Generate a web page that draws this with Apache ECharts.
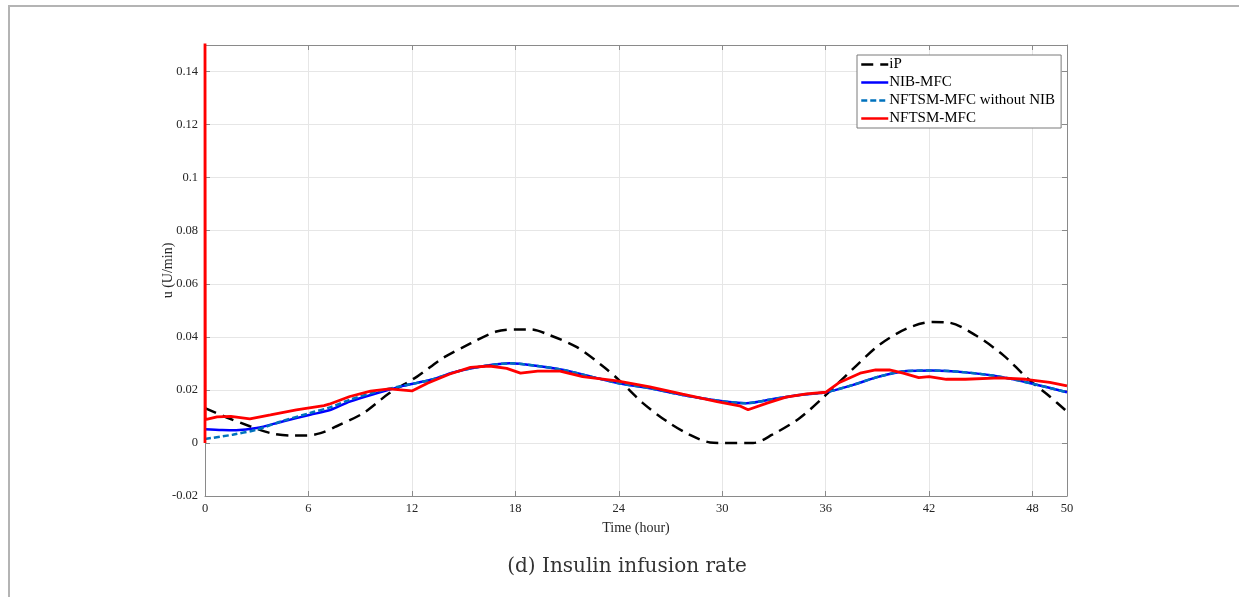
<!DOCTYPE html>
<html>
<head>
<meta charset="utf-8">
<title>Insulin infusion rate</title>
<script src="https://cdn.jsdelivr.net/npm/echarts@6/dist/echarts.min.js"></script>
<style>
  html, body { margin: 0; padding: 0; background: #fff; }
  #chart { position: absolute; left: 0; top: 0; width: 1239px; height: 597px; }
  .frame {
    position: absolute; left: 8px; top: 5px; width: 1300px; height: 700px;
    border-left: 2px solid #b4b4b4; border-top: 2px solid #b4b4b4;
    pointer-events: none;
  }
</style>
</head>
<body>
<div id="chart"></div>
<div class="frame"></div>
<script>
// time axis (hour) and control inputs u (U/min)
var ipHours = [0, 1.3, 2.6, 3.8, 5, 5.9, 6.7, 7.6, 9.2, 10.7, 12.3, 13.8, 15.4, 16.9, 18, 18.9, 20, 21.6, 23.1, 24, 25.4, 26.8, 28.1, 29.3, 30, 31.8, 32.9, 34.5, 36, 37.6, 39.1, 40.7, 42.2, 43.2, 44.7, 46.3, 47.8, 49, 50];
var ipValues = [0.0131, 0.0095, 0.0063, 0.0037, 0.0028, 0.0028, 0.0037, 0.0062, 0.0113, 0.0188, 0.025, 0.032, 0.0375, 0.042, 0.0428, 0.0428, 0.0406, 0.036, 0.0288, 0.0238, 0.015, 0.0081, 0.0031, 0.0002, 0, 0, 0.0031, 0.0094, 0.018, 0.028, 0.0369, 0.0431, 0.0456, 0.0453, 0.0406, 0.0331, 0.0238, 0.0175, 0.0118];

var nibHours = [0, 1, 1.8, 3, 4.5, 6.1, 7.3, 8.4, 10, 11.5, 13.1, 14.6, 16.2, 17.7, 19.3, 20.8, 22.4, 24, 25.8, 27.7, 29.7, 31.4, 32.9, 34.5, 36, 37.6, 39.1, 40.7, 42.2, 44.1, 46.1, 48, 50];
var nibValues = [0.0052, 0.0049, 0.0048, 0.0056, 0.0081, 0.0106, 0.0125, 0.0156, 0.0188, 0.0215, 0.0238, 0.0269, 0.029, 0.03, 0.029, 0.0275, 0.025, 0.0225, 0.0206, 0.0181, 0.016, 0.015, 0.0165, 0.0181, 0.0191, 0.0219, 0.025, 0.0271, 0.0273, 0.0266, 0.025, 0.0223, 0.0191];

var woHours = [0, 1.6, 3, 4.5, 6.1, 7.3, 8.4, 10, 11.5, 13.1, 14.6, 16.2, 17.7, 19.3, 20.8, 22.4, 24, 25.8, 27.7, 29.7, 31.4, 32.9, 34.5, 36, 37.6, 39.1, 40.7, 42.2, 44.1, 46.1, 48, 50];
var woValues = [0.0015, 0.0031, 0.005, 0.0083, 0.0113, 0.0135, 0.0163, 0.0194, 0.0216, 0.0238, 0.0269, 0.029, 0.03, 0.029, 0.0275, 0.025, 0.0225, 0.0206, 0.0181, 0.016, 0.015, 0.0165, 0.0181, 0.0191, 0.0219, 0.025, 0.0271, 0.0273, 0.0266, 0.025, 0.0223, 0.0191];

var nftsmHours = [0, 0, 0.02, 0.7, 1.5, 2.6, 3.8, 5.3, 6.9, 7.2, 8.4, 9.6, 10.7, 12, 12.9, 14.2, 15.4, 16.5, 17.5, 18.3, 19.3, 20.6, 21.9, 23.9, 25.8, 27.7, 29.7, 31, 31.5, 32.6, 33.7, 34.9, 36, 36.8, 38, 38.9, 39.7, 40.5, 41.4, 42, 43, 44.1, 46.1, 47.6, 49, 50];
var nftsmValues = [0, 0.16, 0.0088, 0.0098, 0.01, 0.0091, 0.0106, 0.0125, 0.0141, 0.0146, 0.0175, 0.0195, 0.0204, 0.0196, 0.0225, 0.026, 0.0285, 0.029, 0.0281, 0.0263, 0.0271, 0.0271, 0.025, 0.0234, 0.0211, 0.0184, 0.0156, 0.014, 0.0125, 0.015, 0.0173, 0.0185, 0.0191, 0.0228, 0.0263, 0.0275, 0.0275, 0.0263, 0.0246, 0.025, 0.024, 0.024, 0.0245, 0.024, 0.0228, 0.0215];

var seriesNames = ['iP', 'NIB-MFC', 'NFTSM-MFC without NIB', 'NFTSM-MFC'];

function pairs(xs, ys) {
  var out = [];
  for (var i = 0; i < xs.length; i++) out.push([xs[i], ys[i]]);
  return out;
}

var font = 'Liberation Serif, Times New Roman, serif';
var axisGray = '#8a8a8a';

var chart = echarts.init(document.getElementById('chart'));

function boxAxis(base, extra) {
  return Object.assign({
    type: 'value',
    axisLine: { show: true, onZero: false, lineStyle: { color: axisGray, width: 1 } },
    axisTick: { show: true, inside: true, length: 5, lineStyle: { color: axisGray } },
    splitLine: { show: false }
  }, base, extra);
}

var xBase = { min: 0, max: 50, interval: 6 };
var yBase = { min: -0.02, max: 0.15, interval: 0.02 };

var option = {
  animation: false,
  backgroundColor: 'transparent',
  grid: { left: 205, right: 172, top: 45, bottom: 101 },
  legend: {
    data: seriesNames,
    orient: 'vertical',
    left: 857,
    top: 55,
    padding: [2, 6, 2, 3],
    itemGap: 3,
    itemWidth: 27,
    itemHeight: 14,
    itemStyle: { opacity: 0 },
    lineStyle: { width: 2.5 },
    backgroundColor: '#fff',
    borderColor: '#7a7a7a',
    borderWidth: 1,
    borderRadius: 0,
    textStyle: { fontFamily: font, fontSize: 15, color: '#000', padding: [0, 0, 0, -4] }
  },
  xAxis: [
    boxAxis(xBase, {
      position: 'bottom',
      name: 'Time (hour)',
      nameLocation: 'middle',
      nameGap: 25,
      nameMoveOverlap: false,
      nameTextStyle: { fontFamily: font, fontSize: 14, color: '#262626' },
      axisLabel: { fontFamily: font, fontSize: 12.5, color: '#262626', margin: 6 },
      splitLine: { show: true, lineStyle: { color: '#e6e6e6' } }
    }),
    boxAxis(xBase, { position: 'top', axisLabel: { show: false } })
  ],
  yAxis: [
    boxAxis(yBase, {
      position: 'left',
      name: 'u (U/min)',
      nameLocation: 'middle',
      nameGap: 30,
      nameMoveOverlap: false,
      nameTextStyle: { fontFamily: font, fontSize: 14, color: '#262626' },
      axisLabel: {
        fontFamily: font, fontSize: 12.5, color: '#262626', margin: 7,
        formatter: function (v) {
          if (v > 0.145) return '';
          return String(parseFloat(v.toFixed(2)));
        }
      },
      splitLine: { show: true, lineStyle: { color: '#e6e6e6' } }
    }),
    boxAxis(yBase, { position: 'right', axisLabel: { show: false } })
  ],
  series: [
    {
      name: seriesNames[0], type: 'line', data: pairs(ipHours, ipValues),
      showSymbol: false, symbol: 'none', smooth: 0.3,
      lineStyle: { color: '#000', width: 2.5, type: [12, 7] },
      itemStyle: { color: '#000' }
    },
    {
      name: seriesNames[1], type: 'line', data: pairs(nibHours, nibValues),
      showSymbol: false, symbol: 'none', smooth: 0.3,
      lineStyle: { color: '#0000ff', width: 2.5 },
      itemStyle: { color: '#0000ff' }
    },
    {
      name: seriesNames[2], type: 'line', data: pairs(woHours, woValues),
      showSymbol: false, symbol: 'none', smooth: 0.3,
      lineStyle: { color: '#0072bd', width: 2.5, type: [6, 3] },
      itemStyle: { color: '#0072bd' }
    },
    {
      name: seriesNames[3], type: 'line', data: pairs(nftsmHours, nftsmValues),
      showSymbol: false, symbol: 'none', smooth: false,
      lineStyle: { color: '#ff0000', width: 2.8 },
      itemStyle: { color: '#ff0000' }
    }
  ],
  graphic: [
    {
      type: 'text', x: 627, y: 567,
      style: {
        text: '(d) Insulin infusion rate',
        fontFamily: 'DejaVu Serif, serif', fontSize: 20, fill: '#333',
        align: 'center', verticalAlign: 'middle'
      }
    }
  ]
};

chart.setOption(option);
</script>
</body>
</html>
